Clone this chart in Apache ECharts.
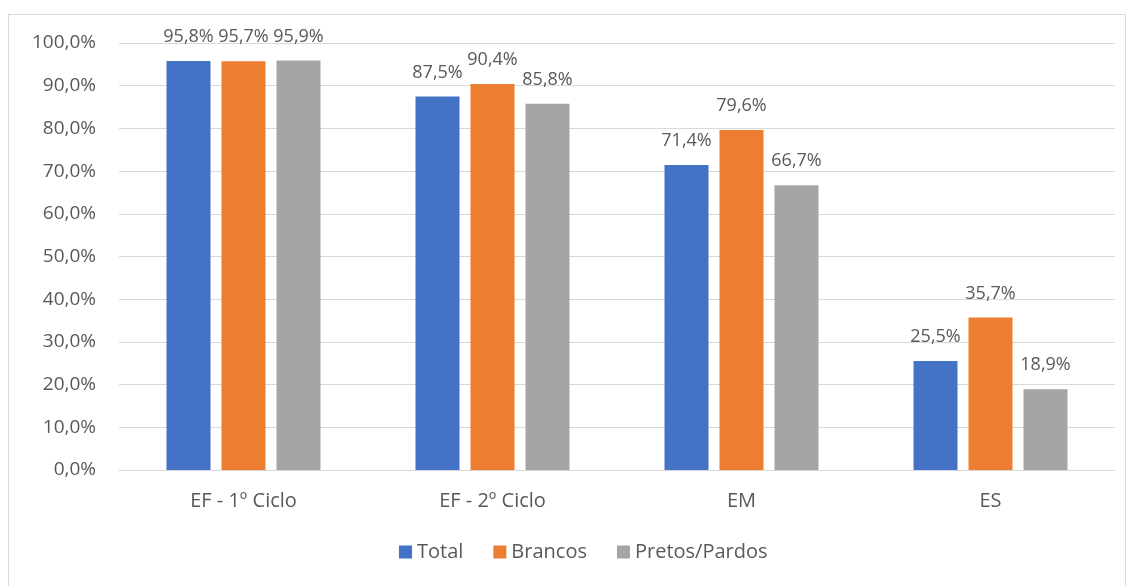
<!DOCTYPE html>
<html>
<head>
<meta charset="utf-8">
<script src="https://cdn.jsdelivr.net/npm/echarts@6/dist/echarts.min.js"></script>
<style>
  html, body { margin: 0; padding: 0; background: #fff; }
  #frame {
    position: absolute; left: 8px; top: 14px;
    width: 1116px; height: 580px;
    border: 1px solid #d9d9d9;
  }
  #chart { position: absolute; left: 0; top: 0; width: 1131px; height: 586px; }
</style>
</head>
<body>
<div id="frame"></div>
<div id="chart"></div>
<script>
const categories = ['EF - 1º Ciclo', 'EF - 2º Ciclo', 'EM', 'ES']
const total = [95.8, 87.5, 71.4, 25.5]
const brancos = [95.7, 90.4, 79.6, 35.7]
const pretosPardos = [95.9, 85.8, 66.7, 18.9]
const yTicks = [0, 10, 20, 30, 40, 50, 60, 70, 80, 90, 100]

const fmt = v => v.toFixed(1).replace('.', ',') + '%'
const font = '"Open Sans", "Liberation Sans", sans-serif'
const textColor = '#595959'

const chart = echarts.init(document.getElementById('chart'))

const makeSeries = (name, data, color) => ({
  name: name,
  type: 'bar',
  data: data,
  barWidth: 44,
  barGap: '25%',
  itemStyle: { color: color },
  label: {
    show: true,
    position: 'top',
    distance: 15,
    formatter: p => fmt(p.value),
    color: textColor,
    fontFamily: font,
    fontSize: 18
  }
})

chart.setOption({
  animation: false,
  textStyle: { fontFamily: font },
  grid: { left: 119, right: 16, top: 43, bottom: 116 },
  legend: {
    bottom: 19,
    left: 394,
    itemWidth: 13,
    itemHeight: 13,
    itemGap: 30,
    icon: 'rect',
    textStyle: { color: textColor, fontSize: 20, fontFamily: font },
    data: ['Total', 'Brancos', 'Pretos/Pardos']
  },
  xAxis: {
    type: 'category',
    data: categories,
    axisLine: { lineStyle: { color: '#d9d9d9' } },
    axisTick: { show: false },
    axisLabel: { color: textColor, fontSize: 20, fontFamily: font, margin: 21 }
  },
  yAxis: {
    type: 'value',
    min: yTicks[0],
    max: yTicks[yTicks.length - 1],
    interval: 10,
    axisLine: { show: false },
    axisTick: { show: false },
    splitLine: { lineStyle: { color: '#d9d9d9' } },
    axisLabel: {
      color: textColor, fontSize: 19, fontFamily: font, margin: 23,
      formatter: v => fmt(v)
    }
  },
  series: [
    makeSeries('Total', total, '#4472c4'),
    makeSeries('Brancos', brancos, '#ed7d31'),
    makeSeries('Pretos/Pardos', pretosPardos, '#a5a5a5')
  ]
})
</script>
</body>
</html>
